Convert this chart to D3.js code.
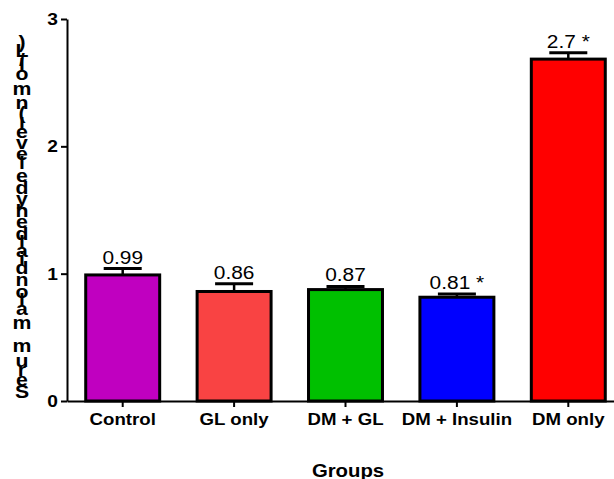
<!DOCTYPE html>
<html>
<head>
<meta charset="utf-8">
<script src="https://cdn.jsdelivr.net/npm/d3@7"></script>
<style>
  body { margin: 0; background: #fff; }
  svg { display: block; }
  text { font-family: "Liberation Sans", Arial, sans-serif; }
</style>
</head>
<body>
<div id="chart"></div>
<script>
const groups = ["Control", "GL only", "DM + GL", "DM + Insulin", "DM only"];
const means = [0.99, 0.86, 0.875, 0.815, 2.685];
const sems = [0.05, 0.06, 0.025, 0.025, 0.05];
const valueLabels = ["0.99", "0.86", "0.87", "0.81 *", "2.7 *"];
const barColors = ["#c000c0", "#f94343", "#00c000", "#0000ff", "#ff0000"];
const yTicks = [0, 1, 2, 3];
const yTitle = "Serum malondialdehyde level (nmol/L)";
const xTitle = "Groups";

const fullwidth = 614;
const fullheight = 479;
const plotLeft = 67, plotRight = 624, plotTop = 19, plotBottom = 401;
const stretch = 1.13;   // text in the original is a bit wider than Arial

const svg = d3.select("#chart")
  .append("svg")
  .attr("width", fullwidth)
  .attr("height", fullheight);

const x = d3.scaleBand()
  .domain(groups)
  .range([plotLeft, plotRight])
  .paddingInner(0.336)
  .paddingOuter(0.168);

const y = d3.scaleLinear()
  .domain([0, 3])
  .range([plotBottom, plotTop]);

// bars
svg.selectAll("rect.bar")
  .data(groups)
  .enter()
  .append("rect")
  .attr("class", "bar")
  .attr("x", d => x(d))
  .attr("width", x.bandwidth())
  .attr("y", (d, i) => y(means[i]))
  .attr("height", (d, i) => y(0) - y(means[i]))
  .style("fill", (d, i) => barColors[i])
  .style("stroke", "black")
  .style("stroke-width", 3);

// error bars (upper only) + value labels
const capW = 38;
const err = svg.append("g").attr("class", "errors");
groups.forEach((g, i) => {
  const cx = x(g) + x.bandwidth() / 2;
  err.append("line")
    .attr("x1", cx).attr("x2", cx)
    .attr("y1", y(means[i])).attr("y2", y(means[i] + sems[i]))
    .style("stroke", "black").style("stroke-width", 2.5);
  err.append("line")
    .attr("x1", cx - capW / 2).attr("x2", cx + capW / 2)
    .attr("y1", y(means[i] + sems[i])).attr("y2", y(means[i] + sems[i]))
    .style("stroke", "black").style("stroke-width", 3);
  svg.append("text")
    .attr("transform", `translate(${cx},${y(means[i] + sems[i]) - 5}) scale(${stretch},1)`)
    .attr("text-anchor", "middle")
    .style("font-size", "18.5px")
    .text(valueLabels[i]);
});

// x axis
const xAxis = svg.append("g")
  .attr("transform", `translate(0,${plotBottom})`)
  .call(d3.axisBottom(x).tickSize(6).tickSizeOuter(0).tickPadding(6));
xAxis.select(".domain").style("stroke-width", 2);
xAxis.selectAll(".tick line").style("stroke-width", 2);
xAxis.selectAll(".tick text")
  .attr("transform", `scale(${stretch},1)`)
  .style("font-family", "'Liberation Sans', Arial, sans-serif")
  .style("font-size", "16.5px")
  .style("font-weight", "bold")
  .attr("fill", "black");

// y axis
const yAxis = svg.append("g")
  .attr("transform", `translate(${plotLeft},0)`)
  .call(d3.axisLeft(y).tickValues(yTicks).tickFormat(d3.format("d")).tickSize(6).tickSizeOuter(0).tickPadding(3));
yAxis.select(".domain").style("stroke-width", 2);
yAxis.selectAll(".tick line").style("stroke-width", 2);
yAxis.selectAll(".tick text")
  .attr("x", -9 / stretch)
  .attr("transform", `scale(${stretch},1)`)
  .style("font-family", "'Liberation Sans', Arial, sans-serif")
  .style("font-size", "17px")
  .style("font-weight", "bold")
  .attr("fill", "black");

// x title
svg.append("text")
  .attr("transform", `translate(348,477) scale(${stretch},1)`)
  .attr("text-anchor", "middle")
  .style("font-size", "18px")
  .style("font-weight", "bold")
  .text(xTitle);

// y title: upright glyphs stacked from bottom to top
const font = "bold 17px 'Liberation Sans', Arial, sans-serif";
const ctx = document.createElement("canvas").getContext("2d");
ctx.font = font;
const chars = yTitle.split("");
const adv = chars.map(c => ctx.measureText(c).width);
const total = d3.sum(adv);
const yStart = 398, yEnd = 38;
const k = (yStart - yEnd) / total;
let acc = 0;
const yt = svg.append("g").attr("class", "ytitle");
chars.forEach((c, i) => {
  const cy = yStart - (acc + adv[i] / 2) * k;
  acc += adv[i];
  if (c === " ") return;
  yt.append("text")
    .attr("transform", `translate(22,${cy}) scale(1.18,1)`)
    .attr("text-anchor", "middle")
    .attr("dominant-baseline", "central")
    .style("font-size", "18px")
    .style("font-weight", "bold")
    .text(c);
});
</script>
</body>
</html>
